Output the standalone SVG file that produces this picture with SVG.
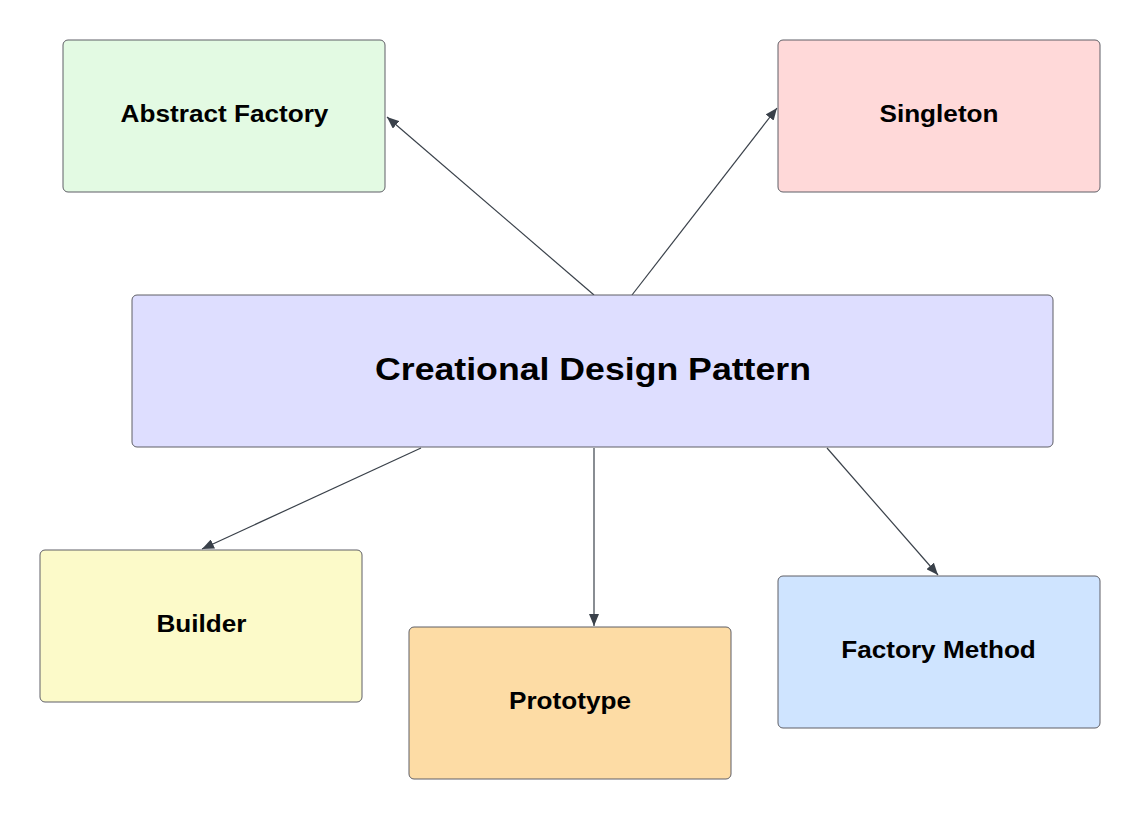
<svg xmlns="http://www.w3.org/2000/svg" width="1140" height="820" viewBox="0 0 1140 820">
<style>
.box{stroke:#5f5f66;stroke-width:1}
.lbl{font-family:"Liberation Sans",Arial,sans-serif;font-weight:bold;font-size:24px;fill:#000;text-anchor:middle;dominant-baseline:central}
.big{font-size:32px}
.edge{stroke:#3a414a;stroke-width:1.2;fill:none;marker-end:url(#arr)}
</style>
<defs>
<marker id="arr" viewBox="0 0 12 10" refX="12" refY="5" markerWidth="12" markerHeight="10" markerUnits="userSpaceOnUse" orient="auto">
<path d="M0,0 L12,5 L0,10 Z" fill="#3a414a"/>
</marker>
</defs>
<rect width="1140" height="820" fill="#ffffff"/>
<g id="connectors">
<line class="edge" x1="594" y1="295" x2="387" y2="117"/>
<line class="edge" x1="632" y1="295" x2="777" y2="108"/>
<line class="edge" x1="421" y1="448" x2="202" y2="549"/>
<line class="edge" x1="594" y1="448" x2="594" y2="626"/>
<line class="edge" x1="827" y1="448" x2="938" y2="575"/>
</g>
<g id="abstract-factory">
<rect class="box" x="63" y="40" width="322" height="152" rx="5" fill="#e3fae3"/>
<text class="lbl" transform="translate(224.5,113) scale(1.09,1)">Abstract Factory</text>
</g>
<g id="singleton">
<rect class="box" x="778" y="40" width="322" height="152" rx="5" fill="#ffd9d9"/>
<text class="lbl" transform="translate(939,113) scale(1.09,1)">Singleton</text>
</g>
<g id="creational">
<rect class="box" x="132" y="295" width="921" height="152" rx="5" fill="#dedeff"/>
<text class="lbl big" transform="translate(593,369) scale(1.115,1)">Creational Design Pattern</text>
</g>
<g id="builder">
<rect class="box" x="40" y="550" width="322" height="152" rx="5" fill="#fcfac9"/>
<text class="lbl" transform="translate(201.5,623) scale(1.09,1)">Builder</text>
</g>
<g id="prototype">
<rect class="box" x="409" y="627" width="322" height="152" rx="5" fill="#fddca5"/>
<text class="lbl" transform="translate(570,700) scale(1.09,1)">Prototype</text>
</g>
<g id="factory-method">
<rect class="box" x="778" y="576" width="322" height="152" rx="5" fill="#cfe4ff"/>
<text class="lbl" transform="translate(938.5,649) scale(1.09,1)">Factory Method</text>
</g>
</svg>
